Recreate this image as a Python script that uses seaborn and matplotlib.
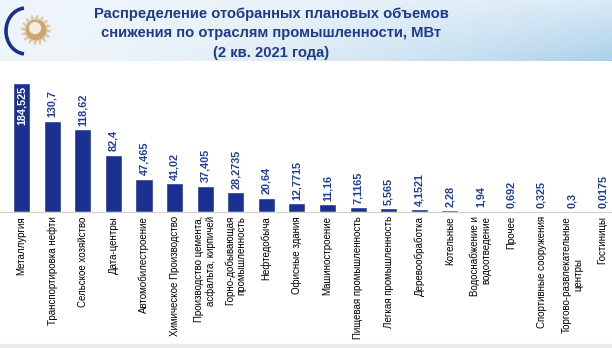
import numpy as np
import pandas as pd
import matplotlib
matplotlib.use("Agg")
import matplotlib.pyplot as plt
import seaborn as sns
from matplotlib.patches import Arc, Circle, Polygon, Rectangle

categories = [
    "Металлургия", "Транспортировка нефти", "Сельское хозяйство", "Дата-центры",
    "Автомобилестроение", "Химическое Производство",
    "Производство цемента,\nасфальта, кирпичей", "Горно-добывающая\nпромышленность",
    "Нефтедобыча", "Офисные здания", "Машиностроение", "Пищевая промышленность",
    "Легкая промышленность", "Деревообработка", "Котельные",
    "Водоснабжение и\nводоотведение", "Прочее", "Спортивные сооружения",
    "Торгово-развлекательные\nцентры", "Гостиницы",
]
values = [184.525, 130.7, 118.62, 82.4, 47.465, 41.02, 37.405, 28.2735, 20.64,
          12.7715, 11.16, 7.1165, 5.565, 4.1521, 2.28, 1.94, 0.692, 0.325, 0.3, 0.0175]
value_labels = ["184,525", "130,7", "118,62", "82,4", "47,465", "41,02", "37,405",
                "28,2735", "20,64", "12,7715", "11,16", "7,1165", "5,565", "4,1521",
                "2,28", "1,94", "0,692", "0,325", "0,3", "0,0175"]
title_lines = ["Распределение отобранных плановых объемов",
               "снижения по отраслям промышленности, МВт",
               "(2 кв. 2021 года)"]

sns.set_style("white")
plt.rcParams["font.family"] = ["Liberation Sans", "DejaVu Sans"]

W, H = 612, 348
fig = plt.figure(figsize=(W / 100, H / 100), dpi=100)
fig.patch.set_facecolor("white")

# background overlay in pixel coordinates
bg = fig.add_axes([0, 0, 1, 1], zorder=0)
bg.set_xlim(0, W)
bg.set_ylim(H, 0)
bg.axis("off")
# header gradient
gx = np.linspace(0, 1, 200)
gy = np.linspace(0, 1, 40)
GX, GY = np.meshgrid(gx, gy)
t = np.clip(0.1 + 0.75 * GX ** 1.8 * (0.3 + 0.7 * GY), 0, 1)
c0 = np.array([0.97, 0.98, 0.99])
c1 = np.array([0.62, 0.79, 0.91])
img = c0[None, None, :] * (1 - t[..., None]) + c1[None, None, :] * t[..., None]
bg.imshow(img, extent=(0, W, 61, 0), aspect="auto", zorder=0)
bg.add_patch(Rectangle((0, 344), W, 4, color="#ebebeb", zorder=1))
# logo
bg.add_patch(Arc((26, 31), 40, 46, theta1=95, theta2=265, color="#1b2f8c", lw=2.6, zorder=2))
for k in range(16):
    a = np.deg2rad(k * 22.5)
    p1 = (36 + 9 * np.cos(a - 0.2), 30 + 9 * np.sin(a - 0.2))
    p2 = (36 + 9 * np.cos(a + 0.2), 30 + 9 * np.sin(a + 0.2))
    p3 = (36 + 15 * np.cos(a + 0.1), 30 + 15 * np.sin(a + 0.1))
    bg.add_patch(Polygon([p1, p2, p3], color="#e0c9a4", zorder=2))
bg.add_patch(Circle((36, 30), 9.5, color="#caa474", zorder=3))
bg.add_patch(Circle((35, 28), 5.5, color="#f5ecdc", zorder=4))

for i, line in enumerate(title_lines):
    bg.text(271, 14 + i * 19.5, line, ha="center", va="center", fontsize=10.6,
            fontweight="bold", color="#1f3a8a", zorder=5)

# main bar axes
base_px, top_px = 212, 80
ax = fig.add_axes([0, (H - base_px) / H, 1, (base_px - top_px) / H], zorder=2)
ax.patch.set_alpha(0)
df = pd.DataFrame({"cat": categories, "val": values})
sns.barplot(data=df, x="cat", y="val", color="#1b3192", saturation=1, width=0.56,
            ax=ax, order=categories)
px_per_unit = 30.58
ax.set_xlim(-21.7 / px_per_unit, (W - 21.7) / px_per_unit)
ax.set_ylim(0, (base_px - top_px) / 0.697)
sns.despine(ax=ax, left=True, top=True, right=True)
ax.spines["bottom"].set_color("#cfcfcf")
ax.spines["bottom"].set_linewidth(0.8)
ax.set_yticks([])
ax.set_xlabel("")
ax.set_ylabel("")
ax.tick_params(axis="x", length=0, pad=3)
ax.set_xticks(range(len(categories)))
ax.set_xticklabels(categories, rotation=90, fontsize=7, color="black",
                   va="top", ha="center")
for lbl in ax.get_xticklabels():
    lbl.set_multialignment("center" if lbl.get_text().startswith("Торгово") else "right")

unit_per_px = 1 / 0.697
for i, (v, s) in enumerate(zip(values, value_labels)):
    if i == 0:
        ax.text(i, v - 2.5 * unit_per_px, s, rotation=90, ha="center", va="top",
                fontsize=7.8, fontweight="bold", color="white", clip_on=False)
    else:
        ax.text(i, v + 3.5 * unit_per_px, s, rotation=90, ha="center", va="bottom",
                fontsize=7.8, fontweight="bold", color="#1f3f99", clip_on=False)

fig.savefig("out.png", dpi=100)
